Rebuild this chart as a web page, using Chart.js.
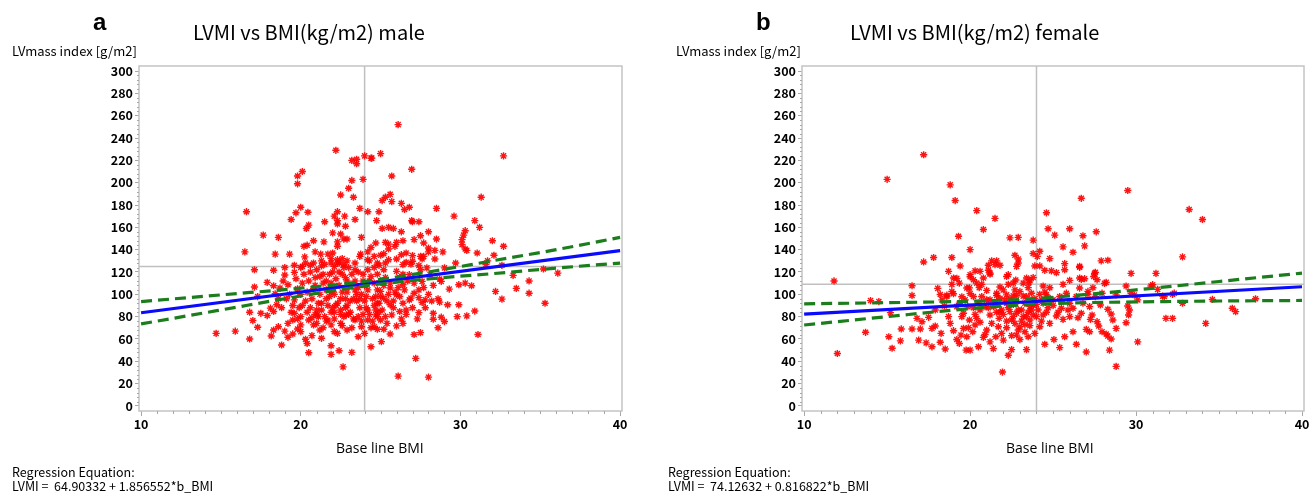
<!DOCTYPE html>
<html>
<head>
<meta charset="utf-8">
<script src="https://cdn.jsdelivr.net/npm/chart.js@4.4.1/dist/chart.umd.min.js"></script>
<style>
  body { margin: 0; background: #fff; }
  #wrap { position: relative; width: 1314px; height: 496px; overflow: hidden; font-family: "Noto Sans CJK JP", sans-serif; color: #000; }
  canvas { position: absolute; top: 0; }
  .txt { position: absolute; white-space: nowrap; line-height: 1; }
  .panel { font-family: "Liberation Sans", Arial, sans-serif; font-weight: bold; font-size: 24px; }
  .title { font-size: 20px; }
  .ytitle { font-size: 13px; }
  .xtitle { font-family: "Open Sans", sans-serif; font-size: 14px; }
  .reg { font-size: 12.5px; line-height: 14px; }
</style>
</head>
<body>
<div id="wrap">
  <canvas id="chartA" width="657" height="496" style="left:0"></canvas>
  <canvas id="chartB" width="657" height="496" style="left:657px"></canvas>

  <div class="txt panel" style="left:93px;top:10px">a</div>
  <div class="txt title" style="left:193px;top:22px">LVMI vs BMI(kg/m2) male</div>
  <div class="txt ytitle" style="left:12px;top:44px">LVmass index [g/m2]</div>
  <div class="txt xtitle" style="left:336px;top:441px">Base line BMI</div>
  <div class="txt reg" style="left:12px;top:465px">Regression Equation:<br>LVMI =&nbsp; 64.90332 + 1.856552*b_BMI</div>

  <div class="txt panel" style="left:756px;top:10px">b</div>
  <div class="txt title" style="left:850px;top:22px">LVMI vs BMI(kg/m2) female</div>
  <div class="txt ytitle" style="left:676px;top:44px">LVmass index [g/m2]</div>
  <div class="txt xtitle" style="left:1006px;top:441px">Base line BMI</div>
  <div class="txt reg" style="left:668px;top:465px">Regression Equation:<br>LVMI =&nbsp; 74.12632 + 0.816822*b_BMI</div>
</div>
<script>
// 軸の目盛り
const xTicks = [10, 20, 30, 40];
const yTicks = [0, 20, 40, 60, 80, 100, 120, 140, 160, 180, 200, 220, 240, 260, 280, 300];
const xMin = 9.87, xMax = 40.12;
const yMin = -4.5, yMax = 304.5;

// 基準線
const refBmi = 24;
const refLvmiMale = 125;
const refLvmiFemale = 109;

// 回帰直線と信頼区間 (BMI位置ごと)
const fitBmi = [10, 40];
const maleFit = [83.5, 139.2];
const femaleFit = [82.3, 106.8];
const maleBandBmi = [10, 15, 20, 24, 28, 32, 36, 40];
const maleUpper = [93.5, 99.5, 105.5, 111.5, 120, 130, 140, 151];
const maleLower = [73.5, 86, 98.5, 107.5, 113.8, 118.5, 123.5, 128];
const femaleBandBmi = [10, 15, 20, 23, 26, 30, 35, 40];
const femaleUpper = [91.5, 92.5, 93.8, 95.4, 98.6, 104, 111.5, 119];
const femaleLower = [72.5, 80, 87.2, 90.4, 92.2, 93.2, 94, 94.5];

// 男性 [BMI, LVMI]
const malePoints = [
  [22.2,229],[23.9,203],[24.0,224],[23.2,220],[23.5,221],[23.5,217],[24.4,222],[25.0,226],[23.2,202],[23.0,195],
  [23.3,187],[22.5,189],[19.8,206],[20.1,210],[19.8,199],[20.0,178],[19.7,173],[20.45,173.5],[19.4,167],[16.6,174],
  [16.5,138],[17.65,153],[18.6,151],[18.4,136],[19.3,136],[20.5,162],[20.35,159],[21.5,165],[22.3,174],[22.1,170],
  [22.3,166],[22.3,163],[22.8,161],[22.75,170],[23.4,167],[23.7,177],[24.2,174],[24.75,166],[24.9,174],[22.0,155],
  [22.5,154],[22.7,149.5],[22.9,149.5],[20.8,148],[20.2,143],[20.4,144],[20.9,138],[21.25,136],[21.7,136],[21.45,147],
  [22.3,147],[22.3,143],[23.8,151],[23.75,136],[24.2,138],[24.4,142],[24.7,146],[20.25,133.5],[22.0,137],[22.3,131],
  [22.6,132],[22.4,128],[22.9,130],[22.7,127],[21.9,128],[24.2,131],[24.6,134],[25.0,135],[20.1,125],[20.6,126],
  [21.3,125.5],[22.1,125],
  [26.1,252],[24.45,222],[32.7,224],[26.95,212],[25.7,206],[31.3,187],[25.6,189.5],[25.3,187],[25.1,184],[25.7,183],
  [26.3,181.5],[26.8,178],[26.5,176],[28.5,177],[29.6,170],[26.95,166],[27.0,165],[27.4,165],[30.9,166],[31.2,160],
  [25.1,159],[25.5,160],[25.8,159],[26.3,156],[28.0,156],[30.3,157],[30.2,153],[27.5,152.5],[28.5,149.5],[27.1,149],
  [26.4,148],[26.0,146.5],[25.5,145],[25.3,146.5],[27.7,146],[28.0,141.5],[28.0,138],[28.4,139.4],[28.9,138],[30.1,149],
  [30.1,144.5],[30.3,140.6],[30.4,139.4],[32.0,148],[32.7,143],[31.05,137],[32.1,135],[31.7,130],[25.5,140.6],[25.9,143],
  [25.2,136.4],[26.3,135.5],[26.6,137],[27.0,134.7],[27.5,134],[27.6,131.7],[26.6,128.7],[26.9,127],[26.0,131.7],[25.3,128],
  [24.8,128],[27.4,125.8],[27.9,123.7],[29.0,123.7],[32.6,126],
  [17.1,122],[18.3,121.5],[19.0,117.3],[19.6,119.7],[14.7,65],[15.9,67],[16.8,60],[17.3,70.5],[17.0,76.5],[16.8,84],
  [17.5,83],[17.9,81],[17.1,106.5],[17.9,110.7],[18.3,107.7],[18.7,105.6],[19.2,108.6],[18.4,100.5],[17.3,98],[18.1,87.6],
  [18.5,90.6],[18.3,84.6],[18.3,68],[18.6,71],[18.15,62.7],[18.8,54.6],[19.2,61.5],[19.0,67],[19.5,64.5],[19.8,69],
  [20.0,66.6],[20.3,59.7],[20.4,56],[20.5,47.7],[21.2,68],[21.3,60.6],[21.9,54],[21.9,46.2],[22.4,49.5],[23.2,48],
  [22.65,35],[24.4,53],[23.6,62],[22.9,68],[22.3,65],[20.0,80],[19.6,83],[19.5,77],[19.2,74],[20.0,72.6],
  [20.5,77],[20.8,72.6],[21.05,81.6],[21.7,77],[21.9,72.6],[22.1,66.6],[22.5,74],[22.85,81.6],[23.4,77],[23.8,71],
  [24.0,65],[24.2,77],[24.6,71],[24.8,80],
  [26.1,26.7],[28.0,25.8],[27.2,42.6],[31.1,64],[27.1,64],[27.5,65.7],[25.05,57.6],[25.6,64.5],[25.2,68.7],[24.8,68.7],
  [26.0,71.7],[26.4,74],[28.6,70],[29.0,75.6],[28.8,79.5],[28.3,77.7],[28.3,83],[29.8,80],[30.4,80.7],[30.9,85],
  [27.4,83.6],[26.6,82],[26.2,84.6],[25.7,81.6],[25.3,80],[25.0,77],[24.7,81.6],[27.8,95],[27.6,92.7],[26.9,96.6],
  [27.1,101],[27.4,104],[28.7,93],[29.2,90.6],[29.9,90.6],[28.8,111.6],[28.7,113.7],[29.3,104.7],[29.9,108.6],[30.3,110],
  [30.7,107.7],[32.2,102.6],[32.6,95.7],[33.5,105.3],[34.3,112],[34.3,101],[35.3,92],[36.1,119],[35.2,122.7],[33.3,117],
  [31.6,126.6],[29.7,128],[28.4,131.7],[27.7,134],[26.4,126.6],[27.0,129.6],[25.5,131],[25.2,122],[26.0,120.6],[26.8,117.6],
  [27.5,122],[28.1,117.6],[27.6,111.6],[26.4,108.6],[25.6,105.6],[25.0,102.6],[26.0,99.6],[25.2,96.6],[24.8,92],[25.6,90.6],
  [26.4,92],
  [20.2,118],[20.5,112],[20.8,105],[21.0,122],[21.2,116],[21.4,110],[21.6,104],[21.8,98],[22.0,120],[22.2,114],
  [22.4,108],[22.6,102],[22.8,96],[23.0,124],[23.2,118],[23.4,112],[23.6,106],[23.8,100],[24.0,94],[24.2,122],
  [24.4,116],[24.6,110],[24.8,104],[25.0,98],[20.0,100],[20.3,94],[20.6,88],[20.9,82],[21.1,92],[21.3,86],
  [21.5,80],[21.7,90],[21.9,84],[22.1,78],[22.3,92],[22.5,86],[22.7,80],[22.9,90],[23.1,84],[23.3,78],
  [23.5,94],[23.7,88],[23.9,82],[24.1,88],[24.3,82],[24.5,76],[24.7,86],[24.9,92],[19.6,95],[19.8,105],
  [19.9,88],[20.1,110],[20.4,102],[20.7,96],[20.9,115],[21.2,100],[21.5,127],[21.8,118],[22.0,106],[22.3,128],
  [22.5,96],[22.8,115],[23.0,108],[23.3,96],[23.6,120],[23.9,112],[24.2,104],[24.5,96],[24.8,118],[25.0,112],
  [19.3,100],[19.5,90],[19.7,114],[20.0,124],[20.3,128],[21.0,74],[21.4,70],[22.0,88],[22.6,72],[23.2,70],
  [23.8,76],[24.4,70],[25.1,86],[21.6,112],[22.1,100],[22.9,102],[23.5,100],[24.1,98],[24.7,98],[20.6,120],
  [21.3,130],[22.7,124],[23.4,128],[24.3,130],[24.9,126],[25.3,115],[25.6,110],[25.9,102],[26.2,115],[26.5,104],
  [26.8,95],[27.1,110],[27.4,97],[27.7,106],[28.0,100],[28.3,108],[28.6,96],[25.4,94],[25.8,88],[26.2,98],
  [26.6,86],[27.0,88],[27.3,78],[27.8,88],[28.2,94],[18.6,96],[18.9,112],[19.1,96],[19.4,84],[18.8,88],
  [19.0,124],[19.6,126],[20.8,128],[21.9,132],[22.6,118],[23.7,134],[24.6,124],
  [20.4,84],[20.7,79],[21.0,86],[21.3,92],[21.6,96],[21.9,102],[22.2,90],[22.5,82],[22.8,88],[23.1,94],
  [23.4,104],[23.7,96],[24.0,108],[24.3,112],[24.6,90],[24.9,84],[25.2,108],[25.5,100],[25.8,94],[26.1,106],
  [26.4,118],[26.7,112],[20.1,90],[19.8,78],[20.9,108],[21.4,118],[21.9,110],[22.4,120],[22.9,112],[23.4,122],
  [23.9,118],[21.1,80],[21.6,76],[22.1,84],[23.0,82],[23.6,80],[24.2,86],[25.4,74],[26.3,78],[20.7,63]
];

// 女性 [BMI, LVMI]
const femalePoints = [
  [11.8,112],[15.0,203],[17.2,225],[18.8,198],[19.1,184],[20.4,175],[21.5,168],[20.8,158],[19.3,152],[22.4,150.6],
  [22.9,151],[23.8,148.5],[22.7,135],[22.9,131.7],[22.9,128],[22.75,112.8],[22.2,116],[21.8,126],[21.6,130],[21.3,130],
  [21.1,126],[21.1,121.5],[21.2,118],[20.8,114.6],[20.7,108.9],[20.55,106],[20.3,121],[20.0,115.8],[20.0,140],[18.9,133],
  [17.2,129],[17.8,133],[19.4,125.4],[18.7,120.6],[19.0,114.6],[19.2,114.3],[18.9,108.9],[16.5,107.7],[16.5,99],[18.05,105.3],
  [18.2,99.9],[18.6,98],[19.0,100.5],[19.96,105.8],[20.0,100.8],[19.5,97.8],[21.6,99],[21.8,106.5],[22.3,108.9],[22.8,99],
  [23.2,98.4],[23.55,110.4],[23.8,115],[23.9,125.4],[24.05,134],[23.8,136.5],
  [29.5,193],[26.7,186],[24.6,173],[33.2,176],[34.0,167],[24.7,158.7],[26.0,158.7],[25.1,153],[26.8,152.4],[27.6,156],
  [26.9,143.4],[24.2,138.6],[25.6,142.5],[26.2,137.7],[24.8,132],[27.9,130],[28.3,130.5],[32.8,133.5],[25.7,127.5],[26.6,124.2],
  [24.2,125.4],[24.5,121.5],[24.9,121],[25.2,119.4],[26.0,112.5],[26.7,113.4],[26.9,114],[27.5,118.8],[28.1,109.8],[29.7,118.8],
  [31.2,118.8],[29.4,107.4],[27.4,105.9],[25.6,108.9],[24.8,105.9],[24.4,107.4],[24.2,100],[24.7,97],[27.1,100],[29.9,99.3],
  [30.9,107.4],[31.3,104.4],[31.6,98.4],[32.2,100],[34.6,95.4],[37.2,96],
  [12.0,47],[13.7,66],[14.0,94.4],[14.5,93.5],[15.1,62],[15.3,51.7],[15.2,83.6],[15.85,69],[15.8,58.3],[16.5,69],
  [16.9,59],[17.0,69],[16.8,78.5],[17.1,75.5],[17.35,56.5],[17.7,53],[17.7,69.5],[17.5,79.4],[17.9,71.6],[17.9,86],
  [18.25,65],[18.2,57.1],[18.5,51],[18.45,89.6],[18.3,95],[18.6,99.2],[18.7,80],[18.8,74],[19.0,67.4],[19.2,59.5],
  [19.35,56],[19.45,63.5],[19.6,69.5],[19.6,83],[19.7,95],[19.86,89],[19.96,77],[19.76,50],[20.0,50],[20.16,66.5],
  [20.3,72.5],[20.4,78.5],[20.6,86],[20.5,53],[20.8,61.4],[21.0,68],[21.2,57.4],[21.4,51.4],[21.55,62],[21.7,71],
  [21.75,78.5],[21.9,86],[22.2,92],[22.1,95],[22.0,59],[22.3,45.4],[22.5,50.5],[21.95,30.4],[22.8,63.5],[23.0,59.5],
  [23.0,71],[23.4,50.5],[22.6,80],[22.8,83],[23.1,86],[23.4,80],[23.6,77],[23.8,81.5],[23.9,65],[23.5,62],
  [23.3,66.5],[22.4,84.5],[22.5,77],[21.2,81.5],[21.4,89],[21.0,95],[20.7,98],[19.35,92],[18.9,102.6],[21.0,103.5],
  [21.6,101],[22.2,99.5],[22.6,98.6],[23.0,102.6],[23.4,98],[23.7,101],[23.6,89],[22.8,93.5],[21.8,96.5],[20.2,98],
  [19.8,105.6],[20.4,110],[19.35,110],[20.2,113],[20.0,117.6],[20.6,120.6],[21.2,119],[21.5,126.6],[22.3,117.6],[22.8,125],
  [23.4,114.6],[23.6,113],[23.2,110],[22.6,110],
  [28.8,35.5],[27.0,48.4],[28.4,50],[26.4,55.3],[25.4,52.3],[24.5,55.3],[25.05,59.5],[25.7,62],[26.2,66.5],[27.0,68.6],
  [27.2,66.5],[27.95,66.5],[28.2,64.4],[28.3,62.6],[28.5,60],[28.8,69.5],[27.75,71.6],[30.1,57.4],[29.4,74.6],[28.6,77],
  [27.65,75.5],[27.25,77.6],[28.3,86.6],[28.5,82.4],[27.35,81.5],[26.7,83],[25.6,77.6],[26.0,80],[25.2,80.6],[24.8,74],
  [24.2,71],[24.4,81.5],[25.5,87.5],[26.2,87.5],[27.85,90.5],[29.5,89.6],[29.6,86],[29.55,81.5],[31.8,78.5],[32.2,78.5],
  [34.2,74],[35.8,87.5],[36.0,84.5],[32.8,92],[31.7,98],[32.3,101],[31.0,108.6],[30.1,95],[29.7,101],[28.8,99.5],
  [27.95,101],[27.55,98],[27.1,102.6],[26.6,105.6],[26.4,98],[25.8,101],[25.5,93.5],[25.0,95],[24.6,99.5],[26.0,92],
  [26.8,92],[27.2,89],[27.65,113],[27.45,116],[26.6,114.6],[25.7,122],[26.6,125],[27.55,119.7],[28.2,110.7],
  [22.0,82],[22.3,88],[22.6,91],[22.9,86],[23.2,80],[23.5,84],[23.8,90],[24.1,86],[24.4,92],[24.7,88],
  [22.2,76],[22.7,74],[23.1,76],[23.6,72],[24.0,80],[24.3,76],[24.6,84],[21.8,84],[21.5,92],[22.4,96],
  [23.3,92],[23.9,96],[24.5,102],[25.0,90],[25.3,84],[20.9,89],[20.5,92],[21.2,95],
  [19.9,70],[20.3,82],[20.6,75],[20.9,64],[21.3,74],[21.6,84],[21.9,65],[22.2,70],[22.5,63],[22.9,68],
  [23.3,73],[23.7,86],[24.0,91],[20.2,88],[19.5,80],[19.8,62],[21.1,88],[22.0,104],[22.7,104],[23.5,106],
  [24.3,95],[25.4,98],[25.9,86],[26.5,79],[19.2,89]
];

const tickFont = { family: "Noto Sans CJK JP", size: 12.5, weight: 'bold' };
const frameColor = '#c4c4c4';

// 枠線と補助目盛りを描くプラグイン
const framePlugin = {
  id: 'frame',
  beforeDatasetsDraw(chart) {
    const { ctx, chartArea: a, scales } = chart;
    ctx.save();
    ctx.strokeStyle = frameColor;
    ctx.lineWidth = 1.5;
    ctx.strokeRect(a.left, a.top, a.right - a.left, a.bottom - a.top);
    ctx.lineWidth = 1;
    ctx.strokeStyle = '#a8a8a8';
    ctx.beginPath();
    for (let v = 11; v < 40; v++) {
      if (v % 10 === 0) continue;
      const px = Math.round(scales.x.getPixelForValue(v)) + 0.5;
      ctx.moveTo(px, a.bottom);
      ctx.lineTo(px, a.bottom + 3);
    }
    for (let v = 4; v < 300; v += 4) {
      if (v % 20 === 0) continue;
      const py = Math.round(scales.y.getPixelForValue(v)) + 0.5;
      ctx.moveTo(a.left - 2, py);
      ctx.lineTo(a.left, py);
    }
    ctx.stroke();
    ctx.restore();
  }
};

function toXY(xs, ys) {
  return xs.map((x, i) => ({ x: x, y: ys[i] }));
}

function createChart(id, points, fit, bandBmi, upper, lower, refLvmi, padLeft, padRight) {
  const ctx = document.getElementById(id).getContext('2d');
  const dashed = {
    borderColor: '#1b7d1b', borderWidth: 3.2, borderDash: [11, 6],
    pointRadius: 0, showLine: true, tension: 0.4, cubicInterpolationMode: 'monotone', order: 0
  };
  const refStyle = { borderColor: '#c0c0c0', borderWidth: 1.5, pointRadius: 0, showLine: true, order: 3 };
  return new Chart(ctx, {
    type: 'scatter',
    data: {
      datasets: [
        Object.assign({ data: [{ x: refBmi, y: yMin }, { x: refBmi, y: yMax }] }, refStyle),
        Object.assign({ data: [{ x: xMin, y: refLvmi }, { x: xMax, y: refLvmi }] }, refStyle),
        {
          data: points.map(p => ({ x: p[0], y: p[1] })),
          pointStyle: 'star', pointRadius: 3.6, borderWidth: 1.4,
          borderColor: 'rgba(255,0,0,0.92)', backgroundColor: 'rgba(255,0,0,0.92)', order: 2
        },
        Object.assign({ data: toXY(bandBmi, upper) }, dashed),
        Object.assign({ data: toXY(bandBmi, lower) }, dashed),
        {
          data: toXY(fitBmi, fit), borderColor: '#0a0aff', borderWidth: 3.2,
          pointRadius: 0, showLine: true, order: 0
        }
      ]
    },
    options: {
      responsive: false,
      animation: false,
      devicePixelRatio: 1,
      layout: { padding: { left: padLeft, right: padRight, top: 66, bottom: 61 } },
      plugins: { legend: { display: false }, tooltip: { enabled: false } },
      events: [],
      scales: {
        x: {
          type: 'linear', min: xMin, max: xMax,
          afterBuildTicks: s => { s.ticks = xTicks.map(v => ({ value: v })); },
          afterFit: s => { s.height = 24; },
          grid: { drawOnChartArea: false, tickLength: 5, color: '#a8a8a8' },
          border: { display: false },
          ticks: { font: tickFont, color: '#000', padding: 1, maxRotation: 0, autoSkip: false }
        },
        y: {
          type: 'linear', min: yMin, max: yMax,
          afterBuildTicks: s => { s.ticks = yTicks.map(v => ({ value: v })); },
          afterFit: s => { s.width = 40; },
          grid: { drawOnChartArea: false, tickLength: 4, color: '#a8a8a8' },
          border: { display: false },
          ticks: { font: tickFont, color: '#000', padding: 2, autoSkip: false }
        }
      }
    },
    plugins: [framePlugin]
  });
}

createChart('chartA', malePoints, maleFit, maleBandBmi, maleUpper, maleLower, refLvmiMale, 99, 35);
createChart('chartB', femalePoints, femaleFit, femaleBandBmi, femaleUpper, femaleLower, refLvmiFemale, 105, 10);
</script>
</body>
</html>
